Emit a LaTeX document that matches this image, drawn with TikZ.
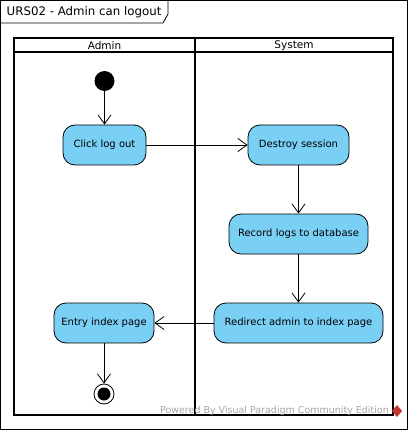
\documentclass[tikz,border=0pt]{standalone}
\usepackage{fontspec}
\setmainfont{DejaVu Sans}
\usetikzlibrary{arrows.meta}
\definecolor{actfill}{RGB}{122,207,245}
\tikzset{
  act/.style={draw=black, fill=actfill, rounded corners=12pt, minimum height=40pt, inner sep=0pt, font=\fontsize{10}{12}\selectfont, line width=0.8pt},
  flow/.style={draw=black, line width=0.8pt, -{Straight Barb[length=9pt,width=13pt,line width=0.8pt]}},
  lane/.style={line width=2pt},
  lanetitle/.style={font=\fontsize{10.5}{12}\selectfont, inner sep=0pt},
}
\begin{document}
\begin{tikzpicture}[x=1pt,y=-1pt]
\useasboundingbox (0,0) rectangle (408,430);
% outer frame
\draw[line width=0.8pt] (0.5,0.5) rectangle (407.5,429.5);
% title tab
\draw[line width=0.8pt] (0.5,23) -- (163,23) -- (168,14) -- (168,0.5);
\node[anchor=west, font=\fontsize{11.8}{14}\selectfont, inner sep=0pt] (title) at (6.5,12) {URS02 - Admin can logout};
% swimlanes
\draw[lane] (14,38) rectangle (393,415);
\draw[lane] (14,52) -- (393,52);
\draw[lane] (195,38) -- (195,415);
\node[lanetitle] (laneA) at (104.5,45.5) {Admin};
\node[lanetitle] (laneS) at (294,45.5) {System};
% nodes
\node[circle, fill=black, minimum size=20pt, inner sep=0pt] (init) at (104.5,81) {};
\node[act, minimum width=83pt] (click) at (104.5,145) {Click log out};
\node[act, minimum width=101pt] (destroy) at (298.5,145) {Destroy session};
\node[act, minimum width=139pt] (record) at (298.5,234) {Record logs to database};
\node[act, minimum width=169pt] (redirect) at (298.5,323) {Redirect admin to index page};
\node[act, minimum width=100pt] (entry) at (104,323) {Entry index page};
\node[circle, draw=black, line width=0.8pt, minimum size=20pt, inner sep=0pt] (final) at (104,394) {};
\node[circle, fill=black, minimum size=13pt, inner sep=0pt] (finalin) at (104,394) {};
% flows
\draw[flow] (init) -- (click);
\draw[flow] (click) -- (destroy);
\draw[flow] (destroy) -- (record);
\draw[flow] (record) -- (redirect);
\draw[flow] (redirect) -- (entry);
\draw[flow] (entry) -- (final);
% watermark
\node[anchor=east, text=black!35, font=\fontsize{9.5}{10}\selectfont, inner sep=0pt] (wm) at (389,411) {Powered By Visual Paradigm Community Edition};
\fill[red!70!black!80] (397,405) -- (402,411) -- (397,417) -- (392,411) -- cycle;
\end{tikzpicture}
\end{document}
